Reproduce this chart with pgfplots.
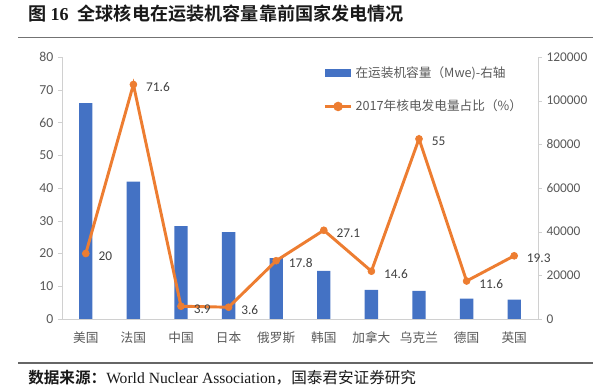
\documentclass[border=0pt]{standalone}
\usepackage{fontspec}
\setmainfont{Carlito}
\newfontfamily\cjk{Noto Sans CJK SC}[BoldFont={Noto Sans CJK SC Bold}]
\newfontfamily\serif{Liberation Serif}
\usepackage{pgfplots}
\pgfplotsset{compat=1.18}
\definecolor{barblue}{HTML}{4472C4}
\definecolor{lineor}{HTML}{ED7D31}
\definecolor{tickgray}{HTML}{595959}
\definecolor{axgray}{HTML}{D0D0D0}
\definecolor{lblgray}{HTML}{404040}
\begin{document}
\begin{tikzpicture}
\path[use as bounding box] (0,0) rectangle (450pt,-289.5pt);
% title
\node[anchor=west, inner sep=0pt, text=black!90] at (21pt,-9.9pt)
  {\fontsize{13.6}{15}\selectfont{\cjk\bfseries 图 }{\serif\bfseries 16}\hspace{0.5em}{\cjk\bfseries 全球核电在运装机容量靠前国家发电情况}};
\draw[line width=1pt, black!55] (13.5pt,-28.3pt) -- (444.75pt,-28.3pt);
\draw[line width=1pt, black!60] (13.5pt,-272.25pt) -- (444.75pt,-272.25pt);
\node[anchor=west, inner sep=0pt, text=black!90] at (21pt,-283.5pt)
  {\fontsize{11.7}{13}\selectfont{\cjk\bfseries 数据来源：}{\serif World Nuclear Association}{\cjk ，国泰君安证券研究}};
% bars on right axis
\begin{axis}[
  at={(46.5pt,-239.25pt)}, anchor=south west,
  scale only axis, width=357pt, height=196.5pt,
  xmin=-0.5, xmax=9.5, ymin=0, ymax=120000,
  axis x line=none, axis y line*=right,
  y axis line style={draw=axgray, line width=0.6pt},
  ytick={0,20000,40000,60000,80000,100000,120000},
  yticklabels={0,20000,40000,60000,80000,100000,120000},
  scaled y ticks=false,
  yticklabel style={font=\fontsize{10}{12}\selectfont, text=tickgray},
  major tick length=3pt,
  tick style={draw=axgray},
  tick align=outside,
  clip=false,
]
\addplot[ybar, bar width=10pt, fill=barblue, draw=none] coordinates {
  (0,98900) (1,62900) (2,42500) (3,39800) (4,27900)
  (5,22100) (6,13300) (7,12900) (8,9300) (9,8850)
};
\end{axis}
% line on left axis
\begin{axis}[
  at={(46.5pt,-239.25pt)}, anchor=south west,
  scale only axis, width=357pt, height=196.5pt,
  xmin=-0.5, xmax=9.5, ymin=0, ymax=80,
  axis y line*=left, axis x line*=bottom,
  axis line style={draw=axgray, line width=0.6pt},
  ytick={0,10,...,80},
  yticklabels={0,10,20,30,40,50,60,70,80},
  xtick={0,...,9},
  xticklabels={美国,法国,中国,日本,俄罗斯,韩国,加拿大,乌克兰,德国,英国},
  xticklabel style={font=\cjk\fontsize{9.5}{11}\selectfont, text=tickgray, yshift=-3pt},
  x tick style={draw=none},
  yticklabel style={font=\fontsize{10.3}{12}\selectfont, text=tickgray},
  major tick length=3pt,
  y tick style={draw=axgray},
  tick align=outside,
  clip=false,
  legend cell align=left,
  legend style={draw=none, fill=none, at={(0.54,0.985)}, anchor=north west,
    font=\cjk\fontsize{9.5}{11}\selectfont, text=tickgray, row sep=11.5pt},
]
\addlegendimage{legend image code/.code={\fill[barblue] (0pt,-2.4pt) rectangle (19pt,2.4pt);}}
\addlegendentry{在运装机容量（Mwe)-右轴}
\addplot[lineor, line width=2.2pt, mark=*, mark size=2.6pt,
  mark options={fill=lineor, draw=lineor, line width=0.5pt},
  nodes near coords, point meta=explicit symbolic,
  every node near coord/.append style={anchor=west, xshift=6pt, yshift=-2pt,
     font=\fontsize{10}{12}\selectfont, text=lblgray},
  legend image code/.code={\draw[lineor, line width=2.2pt] (0pt,0pt) -- (20pt,0pt);
     \fill[lineor] (10pt,0pt) circle (2.4pt);}
] coordinates {
  (0,20) [20] (1,71.6) [71.6] (2,3.9) [3.9] (3,3.6) [3.6] (4,17.8) [17.8]
  (5,27.1) [27.1] (6,14.6) [14.6] (7,55) [55] (8,11.6) [11.6] (9,19.3) [19.3]
};
\addlegendentry{2017年核电发电量占比（\%）}
\end{axis}
\end{tikzpicture}
\end{document}
